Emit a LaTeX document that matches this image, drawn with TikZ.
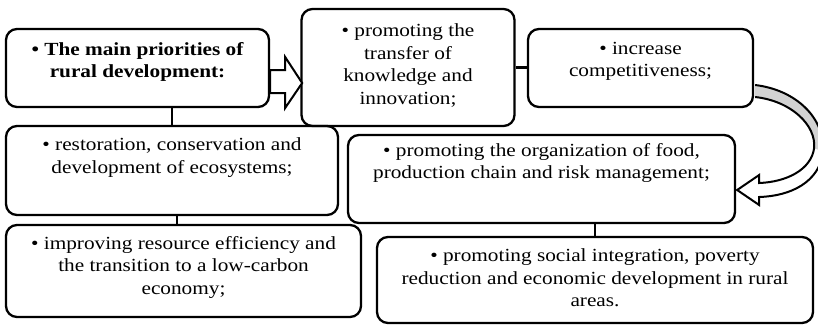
\documentclass[tikz,border=0pt]{standalone}
\usepackage{fontspec}
\setmainfont{Liberation Serif}[FakeStretch=1.15]
\usetikzlibrary{calc}

\newcommand{\boxfont}{\fontsize{18.5pt}{22.5pt}\selectfont}

\begin{document}
\begin{tikzpicture}[x=1pt, y=-1pt,
		box/.style={draw, line width=2.3pt, rounded corners=11pt, inner sep=0pt},
		txt/.style={anchor=north, align=center, inner sep=0pt, font=\boxfont},
		link/.style={line width=2.2pt}]
		
		\useasboundingbox (0,0) rectangle (818,325);
		
		%boxes
		\node [box, minimum width=263pt, minimum height=78pt] (A) at (137.5,68) {};
		\node [box, minimum width=213pt, minimum height=117pt] (B) at (408,67.5) {};
		\node [box, minimum width=225pt, minimum height=78pt] (C) at (640.5,68) {};
		\node [box, minimum width=332pt, minimum height=89pt] (D) at (172,170.5) {};
		\node [box, minimum width=355pt, minimum height=92pt] (E) at (183.5,271) {};
		\node [box, minimum width=387pt, minimum height=88pt] (F) at (541.5,179) {};
		\node [box, minimum width=436pt, minimum height=86pt] (G) at (595,280) {};
		
		%texts
		\node [txt, font=\boxfont\bfseries] (At) at ($(A.north)+(0,14)$) {\textbullet{} The main priorities of\\rural development:};
		\node [txt] (Bt) at ($(B.north)+(0,16)$) {\textbullet{} promoting the\\transfer of\\knowledge and\\innovation;};
		\node [txt] (Ct) at ($(C.north)+(0,14)$) {\textbullet{} increase\\competitiveness;};
		\node [txt] (Dt) at ($(D.north)+(0,13)$) {\textbullet{} restoration, conservation and\\development of ecosystems;};
		\node [txt] (Et) at ($(E.north)+(0,12)$) {\textbullet{} improving resource efficiency and\\the transition to a low-carbon\\economy;};
		\node [txt] (Ft) at ($(F.north)+(0,9)$) {\textbullet{} promoting the organization of food,\\production chain and risk management;};
		\node [txt] (Gt) at ($(G.north)+(0,13)$) {\textbullet{} promoting social integration, poverty\\reduction and economic development in rural\\areas.};
		
		%plain links
		\coordinate (de) at ($(D.south)+(5,0)$);
		\draw [link] (D.north |- A.south) -- (D.north);
		\draw [link] (de) -- (de |- E.north);
		\draw [link] (B.east) -- (B.east -| C.west);
		\draw [link] (G.north |- F.south) -- (G.north);
		
		%block arrow A -> B
		\filldraw [fill=white, line width=2pt, line join=miter] ($(A.east)+(0,2)$) -- ++(15,0) -- ++(0,-13)
			-- ($(A.east)+(32,15)$) -- ++(-17,25) -- ++(0,-15) -- ($(A.east)+(0,25)$) -- cycle;
		
		%curved arrow C -> F, shaded back part first
		\fill [gray!35] ($(C.east)+(1,17)$) .. controls +(41,5) and +(2,-34) .. ($(C.east)+(69,84)$)
			-- ($(C.east)+(60,80)$) .. controls +(2,-23) and +(36,4) .. ($(C.east)+(1,29)$) -- cycle;
		\draw [line width=2pt, line join=miter] ($(C.east)+(1,17)$) .. controls +(41,5) and +(2,-34) .. ($(C.east)+(69,84)$)
			.. controls +(-4,30) and +(32,-1) .. ($(F.east)+(23,18)$) -- ++(0,8) -- ($(F.east)+(1,11)$)
			-- ++(22,-15) -- ++(0,8) .. controls +(27,-1) and +(-3,22) .. ($(C.east)+(60,80)$)
			.. controls +(2,-23) and +(36,4) .. ($(C.east)+(1,29)$);
	\end{tikzpicture}
\end{document}
